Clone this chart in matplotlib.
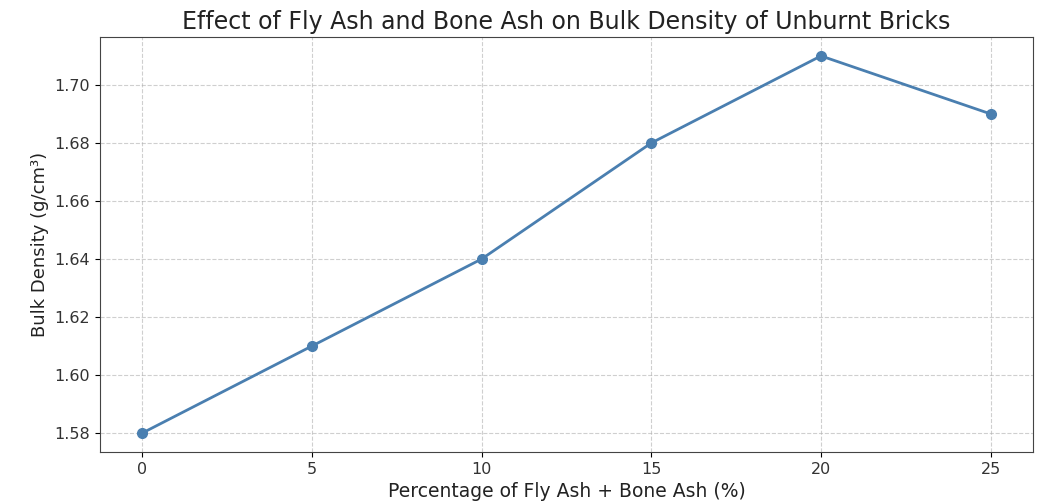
import matplotlib
matplotlib.use("Agg")
import matplotlib.pyplot as plt

pct = [0, 5, 10, 15, 20, 25]
density = [1.58, 1.61, 1.64, 1.68, 1.71, 1.69]

fig, ax = plt.subplots(figsize=(10.51, 5.01), dpi=100)
plt.subplots_adjust(left=0.095, right=0.983, top=0.926, bottom=0.098)

ax.plot(pct, density, marker='o', color='#4a7fb0', lw=2, ms=7)
ax.set_xticks(pct)
ax.set_title('Effect of Fly Ash and Bone Ash on Bulk Density of Unburnt Bricks', fontsize=17, color='#222222')
ax.set_xlabel('Percentage of Fly Ash + Bone Ash (%)', fontsize=13.5, color='#222222')
ax.set_ylabel('Bulk Density (g/cm³)', fontsize=13, color='#222222')
ax.grid(True, linestyle='--', alpha=0.6)
ax.tick_params(labelsize=11.5, labelcolor='#333333')
for s in ax.spines.values():
    s.set_color('#444444')

fig.savefig('out.png', dpi=100)
